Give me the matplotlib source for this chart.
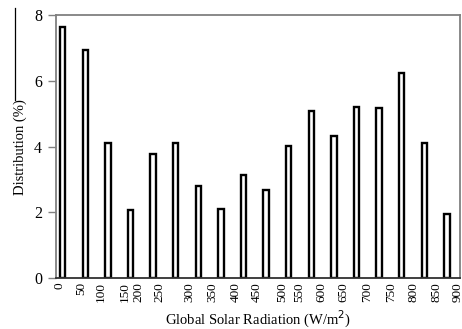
import matplotlib
matplotlib.use("Agg")
import matplotlib.pyplot as plt
from matplotlib.lines import Line2D


# Bin centres of the radiation classes (W/m2) and share of hours in each (%)
bin_centres = [25, 75, 125, 175, 225, 275, 325, 375, 425, 475,
               525, 575, 625, 675, 725, 775, 825, 875]
distribution = [7.64, 6.96, 4.11, 2.07, 3.77, 4.11, 2.79, 2.10, 3.15, 2.67,
                4.02, 5.09, 4.32, 5.22, 5.19, 6.26, 4.11, 1.94]

# Axis labels along the radiation axis
x_tick_labels = ["0", "50", "100", "150", "200", "250", "300", "350", "400", "450",
                 "500", "550", "600", "650", "700", "750", "800", "850", "900"]
x_tick_pos = [18, 65, 109, 162, 193, 240, 306, 355, 408, 454,
              510, 548, 598, 647, 698, 751, 802, 853, 898]
y_ticks = [0, 2, 4, 6, 8]

plt.rcParams["font.family"] = ["Liberation Serif", "DejaVu Serif"]

fig = plt.figure(figsize=(4.62, 3.29), dpi=100)
ax = fig.add_axes([0.1212, 0.155, 0.8745, 0.798])

ax.bar(bin_centres, distribution, width=12, facecolor="white",
       edgecolor="black", linewidth=1.7)

ax.set_xlim(10, 904)
ax.set_ylim(0, 8)

ax.set_xticks(x_tick_pos)
ax.set_xticklabels(x_tick_labels, rotation=90, fontsize=9.5)
ax.tick_params(axis="x", length=0, pad=3)

ax.set_yticks(y_ticks)
ax.tick_params(axis="y", length=6, width=1, color="#808080", pad=4, labelsize=11.5)

for side in ["left", "top", "right"]:
    ax.spines[side].set_color("#808080")
    ax.spines[side].set_linewidth(1.3)
ax.spines["bottom"].set_color("#303030")
ax.spines["bottom"].set_linewidth(1.3)

ax.set_ylabel("Distribution (%)", fontsize=10.5, labelpad=5)
ax.set_xlabel("Global Solar Radiation (W/m$^2$)", fontsize=10.5, labelpad=5)

# thin border stroke on the left edge of the page
fig.add_artist(Line2D([15 / 462, 15 / 462], [1 - 8 / 329, 1 - 100 / 329],
                      transform=fig.transFigure, color="black", linewidth=0.9))

fig.savefig("out.png", dpi=100)
